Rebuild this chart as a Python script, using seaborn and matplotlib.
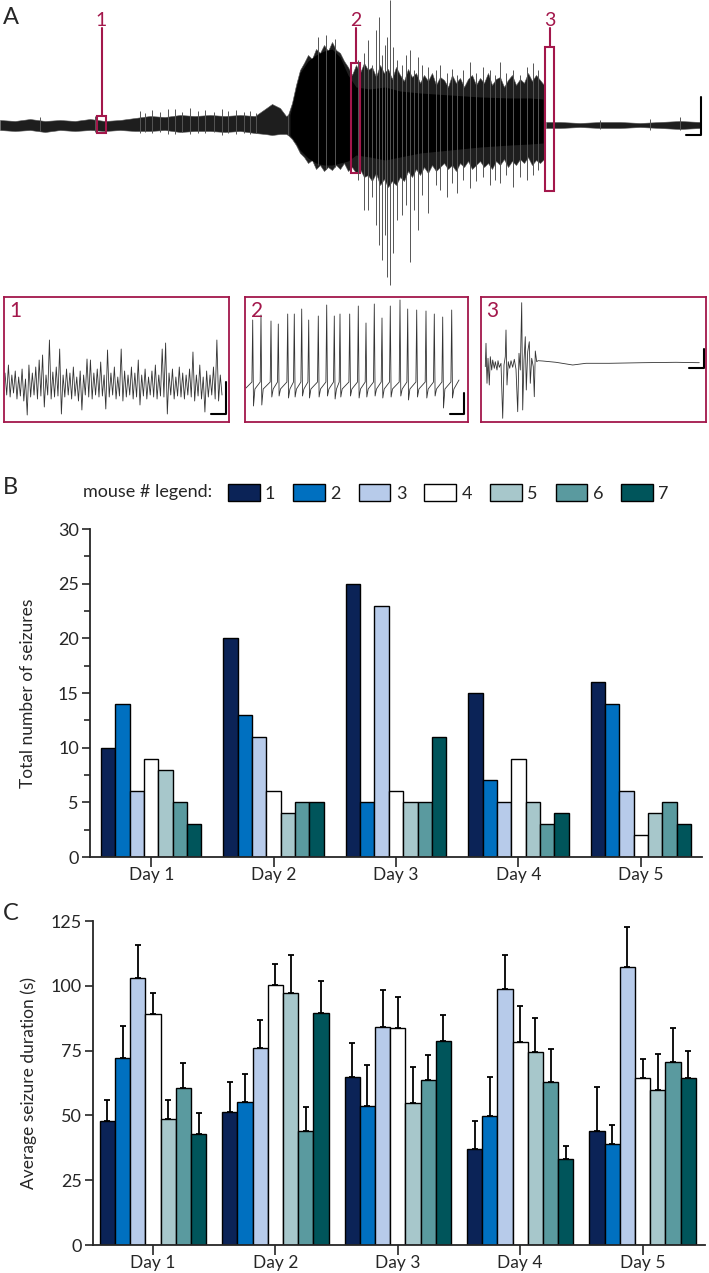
import numpy as np
import pandas as pd
import matplotlib
matplotlib.use('Agg')
import matplotlib.pyplot as plt
import seaborn as sns
from matplotlib.patches import Rectangle, Patch

# ---------------- data ----------------
days = ['Day 1', 'Day 2', 'Day 3', 'Day 4', 'Day 5']
mice = ['1', '2', '3', '4', '5', '6', '7']
mouse_colors = ['#0B2357', '#0070C0', '#B7CBEA', '#FFFFFF', '#A7C7CB', '#5A9A9F', '#00555B']

# B: total number of seizures, one row per day, one column per mouse
seizure_counts = [
    [10, 14, 6, 9, 8, 5, 3],
    [20, 13, 11, 6, 4, 5, 5],
    [25, 5, 23, 6, 5, 5, 11],
    [15, 7, 5, 9, 5, 3, 4],
    [16, 14, 6, 2, 4, 5, 3],
]

# C: average seizure duration (s) and upper error (SEM)
duration_mean = [
    [47.8, 72.3, 103.0, 89.0, 48.5, 60.6, 43.0],
    [51.4, 55.1, 75.9, 100.3, 97.2, 43.8, 89.5],
    [65.0, 53.7, 84.2, 83.8, 54.7, 63.6, 78.6],
    [37.2, 49.6, 98.6, 78.5, 74.6, 63.0, 33.3],
    [43.8, 38.8, 107.2, 64.6, 59.7, 70.6, 64.5],
]
duration_sem = [
    [8.0, 12.2, 12.6, 8.2, 7.4, 9.7, 7.8],
    [11.4, 10.7, 10.8, 8.3, 14.5, 9.4, 12.3],
    [12.8, 15.7, 14.3, 11.7, 13.8, 9.7, 10.1],
    [10.6, 15.3, 13.1, 13.8, 12.8, 12.6, 4.9],
    [17.0, 7.6, 15.4, 7.1, 14.1, 13.1, 10.2],
]

# A: EEG trace (time in px-scale units, amplitude relative to baseline)
# before the seizure
pre_t = [0, 15, 30, 45, 60, 75, 90, 105, 120, 135,
         150, 165, 180, 195, 210, 225, 240, 255, 265, 272,
         280, 286, 288]
pre_hi = [5, 4, 6, 4, 5, 4, 6, 4, 5, 7,
          9, 8, 10, 9, 10, 9, 10, 9, 16, 21,
          17, 9, 10]
pre_lo = [-5, -6, -5, -7, -5, -6, -5, -6, -5, -6,
          -6, -5, -7, -6, -6, -7, -6, -8, -9, -10,
          -9, -9, -10]
# seizure (every 4 units)
ictal_t = list(range(288, 545, 4))
ictal_hi = [10, 22, 40, 55, 62, 70, 66, 76, 72, 80,
            74, 83, 75, 72, 64, 58, 50, 60, 52, 62,
            55, 58, 48, 60, 52, 56, 46, 58, 50, 44,
            56, 48, 52, 42, 50, 44, 52, 40, 48, 45,
            38, 50, 42, 47, 38, 46, 50, 40, 47, 42,
            52, 40, 46, 48, 38, 45, 50, 40, 46, 42,
            52, 44, 50, 45, 40]
ictal_lo = [-10, -14, -20, -28, -32, -38, -35, -44, -40, -46,
            -42, -45, -40, -44, -38, -46, -42, -48, -44, -52,
            -50, -56, -48, -60, -54, -62, -56, -60, -52, -56,
            -46, -52, -44, -50, -42, -48, -40, -46, -42, -38,
            -44, -40, -46, -38, -42, -36, -44, -40, -36, -42,
            -38, -44, -36, -40, -34, -42, -36, -40, -34, -38,
            -32, -40, -35, -38, -34]
# after the seizure
post_t = [546, 560, 580, 600, 620, 640, 660, 680, 700]
post_hi = [3, 3, 2, 3, 3, 2, 3, 4, 3]
post_lo = [-3, -3, -2, -3, -3, -2, -3, -4, -3]

# dense black core of the seizure
core_t = [290, 296, 300, 308, 316, 324, 332, 340, 348, 356,
          370, 385, 400, 420, 450, 480, 510, 530, 543]
core_hi = [10, 36, 52, 64, 70, 74, 76, 68, 50, 38,
           36, 38, 34, 32, 30, 28, 27, 27, 26]
core_lo = [-10, -18, -25, -33, -38, -40, -40, -38, -36, -30,
           -32, -35, -32, -28, -25, -22, -20, -19, -18]

# single large deflections
spike_t = [40, 95, 140, 145, 152, 160, 168, 175, 182, 190, 198, 205, 214, 222, 228,
           236, 244, 250, 256, 318, 326, 335,
           358, 364, 368, 372, 376, 379, 382, 385, 387, 390,
           393, 397, 402, 406, 410, 414, 418, 422, 428, 436,
           440, 447, 452, 457, 463, 470, 476, 483, 490, 495,
           500, 506, 513, 520, 527, 533, 538, 600, 650, 680]
spike_hi = [8, 9, 14, 12, 15, 13, 16, 16, 13, 17, 14, 15, 13, 16, 14,
            15, 13, 14, 12, 88, 90, 86,
            65, 72, 85, 60, 95, 108, 70, 80, 88, 125,
            78, 65, 60, 70, 75, 55, 68, 60, 58, 55,
            60, 52, 56, 50, 55, 63, 52, 58, 55, 50,
            63, 52, 55, 50, 58, 62, 55, 5, 6, 8]
spike_lo = [-6, -7, -8, -7, -8, -7, -9, -9, -7, -9, -8, -8, -7, -10, -8,
            -9, -8, -9, -8, -40, -44, -42,
            -55, -85, -85, -72, -100, -120, -135, -110, -152, -160,
            -128, -95, -90, -80, -137, -85, -105, -70, -88, -60,
            -65, -72, -58, -68, -55, -63, -56, -52, -60, -55,
            -58, -50, -62, -52, -55, -50, -45, -4, -5, -5]

# inset 1: successive peaks / troughs of the interictal trace
ins1_peaks = [14, 22, 12, 16, 10, 18, 8, 22, 14, 20, 27, 32, 12, 47, 15, 20,
              38, 12, 18, 14, 20, 10, 16, 12, 28, 27, 14, 18, 25, 12, 37, 14,
              20, 10, 38, 16, 12, 20, 14, 27, 12, 18, 10, 16, 22, 12, 38, 44,
              14, 18, 10, 20, 14, 12, 18, 35, 12, 22, 10, 16, 12, 20, 47, 12]
ins1_troughs = [-8, -10, -6, -12, -9, -14, -28, -10, -8, -12, -9, -20, -8, -12, -10, -9,
                -27, -10, -8, -12, -9, -14, -23, -8, -10, -12, -8, -10, -9, -22, -10, -8,
                -12, -9, -14, -10, -8, -12, -10, -18, -9, -12, -8, -10, -12, -9, -10, -27,
                -8, -12, -9, -10, -12, -8, -10, -14, -9, -12, -25, -10, -8, -12, -14, -8]

# inset 2: spike train during the seizure
ins2_t = [7.7, 16, 26, 33.3, 42.7, 49.3, 56.7, 63.7, 73.3, 81.7, 89.3, 95, 104.7,
          113.3, 121, 129.3, 137, 145.3, 155, 162.7, 171.7, 181, 189.3, 197.7, 206.7]
ins2_peak = [68, 73, 67, 64, 74, 74, 79, 68, 72, 83, 72, 74, 74,
             82, 65, 84, 70, 82, 88, 79, 78, 77, 74, 71, 78]
ins2_trough = [-18, -17, -9, -8, -10, -9, -8, -10, -9, -8, -11, -9, -8,
               -10, -9, -8, -10, -9, -8, -12, -9, -10, -8, -20, -10]

# inset 3: end of the seizure
ins3_t = [4.3, 5, 6, 7, 8.3, 9.3, 10.7, 11.7, 13.3, 14.3, 16, 17, 18.3, 20, 21.7,
          23, 24.3, 25, 26, 27.3, 28.7, 30, 31.7, 33.3, 35, 36.7, 38, 39.3, 40.7,
          41.7, 43, 44.3, 45.3, 46.7, 48.3, 49.3, 50.7, 52.3, 53.3, 54.3, 55.7, 57,
          61.7, 75, 91.7, 105, 128.3, 161.7, 195, 218.3]
ins3_v = [-1.7, 21.7, -18.3, 6.7, -20, 8.3, -5, 5, -3.3, 3.3, -5, 4.3, -2.3, 1.7, -53.3,
          0, 8.3, 35, -20, 3.3, -3.3, 4.3, -2.3, 5.7, -4.3, -46.7, 11.7, -5, 62.3,
          -45, 5, 28.3, -25, 13.3, 23.3, -18.3, 6.7, -1.7, -31.7, 14, 3.3, 4.3,
          4, 2.7, 0, 1.7, 1.7, 2.3, 2.7, 2.3]

RED = '#A3174B'

# ---------------- figure ----------------
sns.set_style('ticks')
plt.rcParams['font.family'] = ['Lato', 'DejaVu Sans']

W, H = 709, 1273
fig = plt.figure(figsize=(W / 100, H / 100), dpi=100)


def px_axes(left, top, width, height):
    return fig.add_axes([left / W, 1 - (top + height) / H, width / W, height / H])


# ---- panel A: full trace ----
axA = px_axes(0, 0, W, 290)
axA.set_xlim(0, W)
axA.set_ylim(-165, 125)
axA.axis('off')
axA.vlines(spike_t, spike_lo, spike_hi, color='#555555', lw=0.7)
for t, hi, lo in [(pre_t, pre_hi, pre_lo), (ictal_t, ictal_hi, ictal_lo), (post_t, post_hi, post_lo)]:
    axA.fill_between(t, hi, lo, color='#1e1e1e', lw=0.4, edgecolor='#555555')
axA.fill_between(core_t, core_hi, core_lo, color='black', lw=0)
for x0, top, bot, lab in [(97, 9, -8, '1'), (351, 62, -48, '2'), (545, 78, -66, '3')]:
    axA.add_patch(Rectangle((x0, bot), 9, top - bot, fill=False, ec=RED, lw=1.5))
    axA.plot([x0 + 4.5, x0 + 4.5], [top, 97], color=RED, lw=1.5)
    axA.text(x0 + 4.5, 105, lab, color=RED, fontsize=14, ha='center', va='center')
axA.plot([686, 701, 701], [-10, -10, 28], color='black', lw=1.5)
fig.text(3 / W, 1 - 18 / H, 'A', fontsize=17, va='center')

# ---- insets ----
inset_boxes = [(4, 297, 225, 125), (245, 297, 223, 125), (481, 297, 225, 125)]
inset_ylims = [(-35, 90), (-34, 91), (-57, 68)]
scale_bars = [(207, 222, -27, 5), (205, 219, -26, -5), (208, 223, -3, 16)]
insets = []
for i, (box, yl, sb) in enumerate(zip(inset_boxes, inset_ylims, scale_bars)):
    ax = px_axes(*box)
    ax.set_xlim(0, box[2])
    ax.set_ylim(*yl)
    ax.set_xticks([])
    ax.set_yticks([])
    for s in ax.spines.values():
        s.set_color(RED)
        s.set_linewidth(1.3)
    ax.text(0.025, 0.885, str(i + 1), transform=ax.transAxes, color=RED,
            fontsize=15, ha='left', va='center')
    ax.plot([sb[0], sb[1], sb[1]], [sb[2], sb[2], sb[3]], color='black', lw=1.5)
    insets.append(ax)

# inset 1
x1 = np.linspace(1, 218, 2 * len(ins1_peaks))
y1 = np.ravel(np.column_stack([ins1_peaks, ins1_troughs]))
insets[0].plot(x1, y1, color='#333333', lw=0.6)

# inset 2
xs, ys = [1], [0]
for t, p, tr in zip(ins2_t, ins2_peak, ins2_trough):
    xs += [t - 0.8, t, t + 0.8, t + 2.2]
    ys += [6, p, tr, -1]
xs.append(214)
ys.append(8)
insets[1].plot(xs, ys, color='#333333', lw=0.6)

# inset 3
insets[2].plot(ins3_t, ins3_v, color='#333333', lw=0.6)

# ---- panel B ----
df_b = pd.DataFrame({
    'day': np.repeat(days, len(mice)),
    'mouse': np.tile(mice, len(days)),
    'count': np.ravel(seizure_counts),
})
axB = px_axes(90, 529, 612, 328)
sns.barplot(data=df_b, x='day', y='count', hue='mouse', hue_order=mice,
            palette=mouse_colors, saturation=1, edgecolor='black', linewidth=1,
            width=0.82, errorbar=None, legend=False, ax=axB)
axB.set_xlim(-0.5, 4.5)
axB.set_ylim(0, 30)
axB.set_yticks(range(0, 31, 5))
axB.set_yticks(np.arange(2.5, 30, 5), minor=True)
axB.set_xlabel('')
axB.set_ylabel('Total number of seizures', fontsize=12.5)
axB.yaxis.set_label_coords(-0.088, 0.5)
fig.text(3 / W, 1 - 487 / H, 'B', fontsize=17, va='center')

# ---- panel C ----
df_c = pd.DataFrame({
    'day': np.repeat(days, len(mice)),
    'mouse': np.tile(mice, len(days)),
    'duration': np.ravel(duration_mean),
})
axC = px_axes(93, 921, 612, 324)
sns.barplot(data=df_c, x='day', y='duration', hue='mouse', hue_order=mice,
            palette=mouse_colors, saturation=1, edgecolor='black', linewidth=1,
            width=0.87, errorbar=None, legend=False, ax=axC)
bar_groups = list(axC.containers)
for m, cont in enumerate(bar_groups):
    for d, bar in enumerate(cont.patches):
        axC.errorbar(bar.get_x() + bar.get_width() / 2, bar.get_height(),
                     yerr=[[0], [duration_sem[d][m]]], fmt='none', ecolor='black',
                     elinewidth=1.3, capsize=2.5, capthick=1.3, zorder=1)
axC.set_xlim(-0.49, 4.51)
axC.set_ylim(0, 125)
axC.set_yticks(range(0, 126, 25))
axC.set_xlabel('')
axC.set_ylabel('Average seizure duration (s)', fontsize=12.5)
axC.yaxis.set_label_coords(-0.0915, 0.5)
fig.text(3 / W, 1 - 913 / H, 'C', fontsize=17, va='center')

for ax in (axB, axC):
    sns.despine(ax=ax)
    for s in ('left', 'bottom'):
        ax.spines[s].set_linewidth(1.3)
    ax.tick_params(axis='y', which='major', length=6, width=1.2, labelsize=13, pad=2)
    ax.tick_params(axis='y', which='minor', length=4, width=1.2)
    ax.tick_params(axis='x', length=7, width=1.2, labelsize=12.5, pad=0)

# ---- legend ----
fig.text(83 / W, 1 - 492 / H, 'mouse # legend:', fontsize=13, va='center')
handles = [Patch(facecolor=c, edgecolor='black', linewidth=1) for c in mouse_colors]
fig.legend(handles, mice, loc='center left', bbox_to_anchor=(228 / W, 1 - 493 / H),
           ncol=7, frameon=False, fontsize=13, handlelength=1.75, handleheight=1.0,
           handletextpad=0.3, columnspacing=1.0, borderpad=0, borderaxespad=0)

fig.savefig('out.png', dpi=100, facecolor='white')
